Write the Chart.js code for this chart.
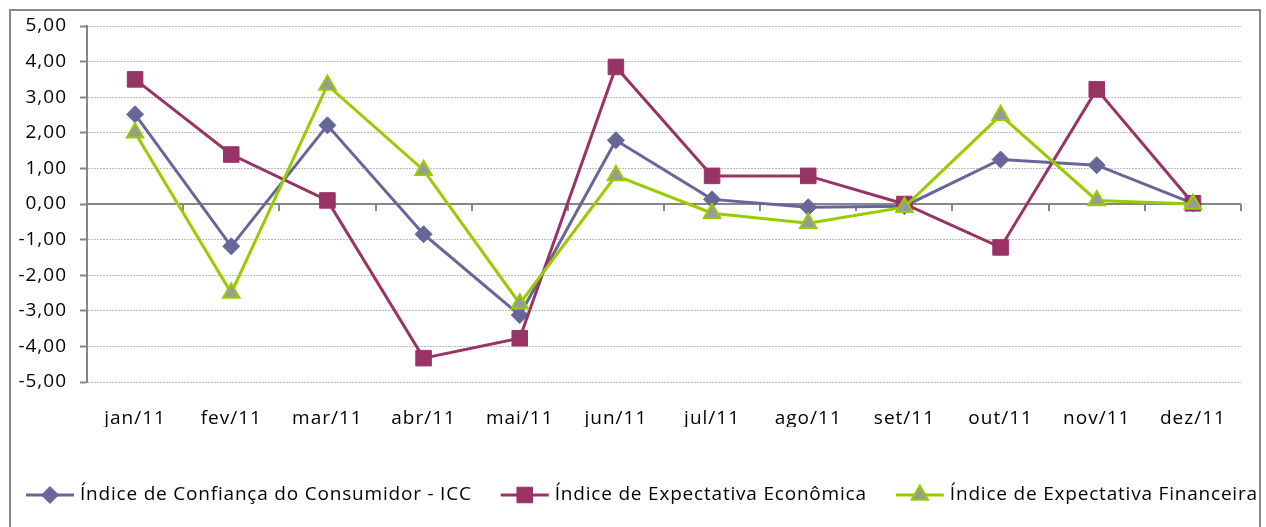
<!DOCTYPE html>
<html>
<head>
<meta charset="utf-8">
<script src="https://cdn.jsdelivr.net/npm/chart.js@4"></script>
<style>
  html, body { margin: 0; padding: 0; background: #fff; }
  #wrap { width: 1266px; height: 527px; }
</style>
</head>
<body>
<div id="wrap"><canvas id="icc_chart" width="1266" height="527"></canvas></div>
<script>
const months = ["jan/11", "fev/11", "mar/11", "abr/11", "mai/11", "jun/11", "jul/11", "ago/11", "set/11", "out/11", "nov/11", "dez/11"];
const seriesNames = ["Índice de Confiança do Consumidor - ICC", "Índice de Expectativa Econômica", "Índice de Expectativa Financeira"];
const icc = [2.52, -1.19, 2.21, -0.85, -3.12, 1.79, 0.13, -0.09, -0.06, 1.25, 1.09, 0.02];
const economica = [3.50, 1.39, 0.10, -4.33, -3.77, 3.85, 0.79, 0.79, 0.00, -1.22, 3.22, 0.02];
const financeira = [2.00, -2.50, 3.34, 0.95, -2.80, 0.80, -0.26, -0.54, -0.09, 2.49, 0.10, 0.00];
const yTicks = [-5, -4, -3, -2, -1, 0, 1, 2, 3, 4, 5];

const fontFamily = "'Open Sans', 'Noto Sans', sans-serif";
const axisGrey = "#868686";

// frame, zero line with category tick marks, and the legend
const decor = {
  id: "decor",
  beforeDraw(chart) {
    const ctx = chart.ctx;
    ctx.save();
    ctx.strokeStyle = axisGrey;
    ctx.lineWidth = 2;
    ctx.strokeRect(10, 10, 1250, 600);
    ctx.restore();
    ctx.letterSpacing = "1px";
  },
  beforeDatasetsDraw(chart) {
    const ctx = chart.ctx;
    const x = chart.scales.x, y = chart.scales.y;
    const y0 = y.getPixelForValue(0);
    ctx.save();
    ctx.strokeStyle = axisGrey;
    ctx.lineWidth = 2;
    ctx.beginPath();
    ctx.moveTo(chart.chartArea.left, y0);
    ctx.lineTo(chart.chartArea.right, y0);
    ctx.stroke();
    const step = x.getPixelForValue(1) - x.getPixelForValue(0);
    for (let i = 0; i <= months.length; i++) {
      const px = Math.round(x.getPixelForValue(i) - step / 2);
      ctx.beginPath();
      ctx.moveTo(px, y0);
      ctx.lineTo(px, y0 + 7);
      ctx.stroke();
    }
    ctx.restore();
  },
  afterDraw(chart) {
    const ctx = chart.ctx;
    const sets = chart.data.datasets.slice().sort((a, b) => a.legendIndex - b.legendIndex);
    let lx = 26;
    const ly = 495;
    ctx.save();
    ctx.font = "19px " + fontFamily;
    ctx.letterSpacing = "0.8px";
    ctx.textBaseline = "middle";
    sets.forEach(ds => {
      ctx.strokeStyle = ds.borderColor;
      ctx.lineWidth = 3;
      ctx.beginPath();
      ctx.moveTo(lx, ly);
      ctx.lineTo(lx + 48, ly);
      ctx.stroke();
      ctx.fillStyle = ds.pointBackgroundColor;
      ctx.strokeStyle = ds.pointBorderColor;
      ctx.lineWidth = ds.pointBorderWidth;
      Chart.helpers.drawPoint(ctx, {
        pointStyle: ds.pointStyle,
        radius: ds.pointRadius,
        borderWidth: ds.pointBorderWidth,
        rotation: 0
      }, lx + 24, ly);
      ctx.fillStyle = "#000";
      ctx.fillText(ds.label, lx + 54, ly);
      lx += 54 + ctx.measureText(ds.label).width + 29;
    });
    ctx.restore();
  }
};

new Chart("icc_chart", {
  type: "line",
  data: {
    labels: months,
    datasets: [{
      label: seriesNames[0],
      legendIndex: 0,
      data: icc,
      borderColor: "#666699",
      borderWidth: 3,
      pointStyle: "rectRot",
      pointRadius: 8.5,
      pointBackgroundColor: "#666699",
      pointBorderColor: "#666699",
      pointBorderWidth: 1,
      tension: 0,
      order: 3
    }, {
      label: seriesNames[1],
      legendIndex: 1,
      data: economica,
      borderColor: "#993366",
      borderWidth: 3,
      pointStyle: "rect",
      pointRadius: 11,
      pointBackgroundColor: "#993366",
      pointBorderColor: "#993366",
      pointBorderWidth: 1,
      tension: 0,
      order: 2
    }, {
      label: seriesNames[2],
      legendIndex: 2,
      data: financeira,
      borderColor: "#99CC00",
      borderWidth: 3,
      pointStyle: "triangle",
      pointRadius: 9.5,
      pointBackgroundColor: "#999999",
      pointBorderColor: "#99CC00",
      pointBorderWidth: 2,
      tension: 0,
      order: 1
    }]
  },
  options: {
    responsive: false,
    animation: false,
    layout: { padding: { top: 26, right: 25, bottom: 100, left: 0 } },
    plugins: {
      legend: { display: false },
      tooltip: { enabled: false },
      title: { display: false }
    },
    scales: {
      x: {
        offset: true,
        grid: { display: false, drawTicks: false },
        border: { display: false },
        ticks: {
          color: "#000",
          padding: 25,
          maxRotation: 0,
          font: { family: fontFamily, size: 19 }
        },
        afterFit: scale => { scale.height = 45; }
      },
      y: {
        min: -5,
        max: 5,
        afterBuildTicks: scale => { scale.ticks = yTicks.map(v => ({ value: v })); },
        grid: {
          color: ctx => ctx.tick && ctx.tick.value === 0 ? "rgba(0,0,0,0)" : "#bdbdbd",
          lineWidth: 1,
          tickLength: 7,
          tickColor: axisGrey,
          tickWidth: 2
        },
        border: { display: true, color: axisGrey, width: 2, dash: [2, 1] },
        ticks: {
          color: "#000",
          padding: 13,
          font: { family: fontFamily, size: 19 },
          callback: v => v.toFixed(2).replace(".", ",")
        },
        afterFit: scale => { scale.width = 87; }
      }
    }
  },
  plugins: [decor]
});
</script>
</body>
</html>
